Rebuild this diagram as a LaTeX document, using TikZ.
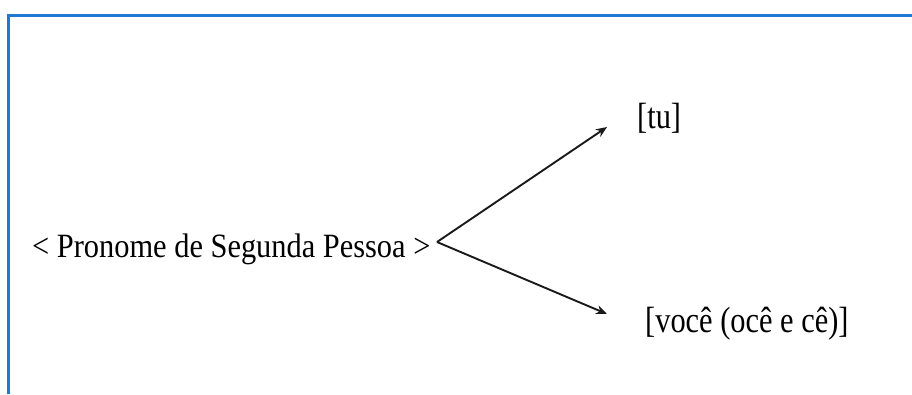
\documentclass[tikz,border=0pt]{standalone}
\usepackage{fontspec}
\setmainfont{Liberation Serif}
\usetikzlibrary{arrows.meta}
\definecolor{frameblue}{HTML}{1F78D1}
\definecolor{inkgray}{HTML}{1A1A1A}
\begin{document}
\begin{tikzpicture}[x=1pt,y=-1pt,
  lbl/.style={inner sep=0pt,font=\fontsize{30.4}{32}\selectfont},
  conn/.style={inkgray,line width=1.9pt,-{Stealth[length=11pt,width=9pt]}}]
\useasboundingbox (0,0) rectangle (912,394);
\draw[frameblue,line width=3pt] (8,394) -- (8,15) -- (912,15);
\node[lbl,anchor=base west] (src) at (32,257) {\scalebox{1}[1.12]{< Pronome de Segunda Pessoa >}};
\coordinate (v) at (437,242);
\node[lbl,anchor=base west] (tu) at (637,128) {\scalebox{1}[1.2]{[tu]}};
\node[lbl,anchor=base west] (voce) at (645,332) {\scalebox{1}[1.2]{[você (ocê e cê)]}};
\coordinate (t1) at (607,127);
\coordinate (t2) at (607,314);
\draw[conn] (v) -- (t1);
\draw[conn] (v) -- (t2);
\end{tikzpicture}
\end{document}
